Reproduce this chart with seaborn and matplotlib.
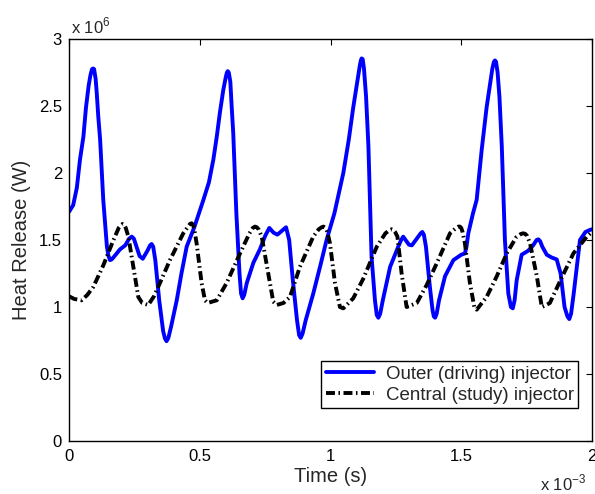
import numpy as np
import pandas as pd
import seaborn as sns
import matplotlib
matplotlib.use('Agg')
import matplotlib.pyplot as plt
from matplotlib.ticker import FuncFormatter

# valores (tempo em ms, calor em MW)
t_outer = [0.000, 0.016, 0.030, 0.042, 0.055, 0.065, 0.075, 0.082, 0.088, 0.092,
           0.096, 0.102, 0.106, 0.112, 0.119, 0.131, 0.145, 0.151, 0.157, 0.163,
           0.170, 0.195, 0.215, 0.230, 0.240, 0.248, 0.258, 0.270, 0.282, 0.300,
           0.310, 0.316, 0.322, 0.330, 0.345, 0.360, 0.367, 0.373, 0.380, 0.390,
           0.412, 0.430, 0.450, 0.480, 0.514, 0.535, 0.552, 0.565, 0.577, 0.590,
           0.600, 0.604, 0.607, 0.611, 0.617, 0.622, 0.628, 0.640, 0.652, 0.658,
           0.664, 0.670, 0.680, 0.705, 0.730, 0.750, 0.766, 0.782, 0.797, 0.815,
           0.830, 0.842, 0.856, 0.872, 0.880, 0.886, 0.893, 0.905, 0.934, 0.960,
           0.985, 1.015, 1.049, 1.070, 1.087, 1.100, 1.112, 1.116, 1.119, 1.123,
           1.128, 1.136, 1.145, 1.151, 1.157, 1.170, 1.177, 1.183, 1.190, 1.200,
           1.228, 1.259, 1.270, 1.278, 1.287, 1.300, 1.311, 1.330, 1.345, 1.351,
           1.357, 1.365, 1.380, 1.390, 1.395, 1.400, 1.406, 1.415, 1.438, 1.470,
           1.500, 1.514, 1.520, 1.527, 1.545, 1.559, 1.578, 1.597, 1.607, 1.619,
           1.625, 1.629, 1.633, 1.639, 1.646, 1.655, 1.662, 1.667, 1.680, 1.690,
           1.697, 1.704, 1.712, 1.731, 1.756, 1.775, 1.788, 1.795, 1.802, 1.810,
           1.827, 1.845, 1.865, 1.880, 1.895, 1.906, 1.913, 1.920, 1.930, 1.954,
           1.975, 1.992, 2.000]
q_outer = [1.71, 1.76, 1.89, 2.10, 2.27, 2.49, 2.65, 2.73, 2.775, 2.78,
           2.775, 2.70, 2.60, 2.42, 2.25, 1.80, 1.45, 1.38, 1.35, 1.355,
           1.37, 1.43, 1.46, 1.51, 1.525, 1.51, 1.45, 1.38, 1.36, 1.42,
           1.46, 1.47, 1.45, 1.35, 1.05, 0.82, 0.765, 0.745, 0.77, 0.85,
           1.05, 1.25, 1.45, 1.60, 1.80, 1.93, 2.10, 2.27, 2.45, 2.62,
           2.72, 2.75, 2.76, 2.75, 2.68, 2.50, 2.30, 1.70, 1.25, 1.10,
           1.065, 1.09, 1.18, 1.33, 1.43, 1.53, 1.59, 1.555, 1.54, 1.57,
           1.595, 1.50, 1.20, 0.90, 0.79, 0.77, 0.80, 0.90, 1.10, 1.30,
           1.50, 1.70, 2.00, 2.25, 2.49, 2.65, 2.80, 2.84, 2.855, 2.85,
           2.78, 2.57, 2.20, 1.80, 1.375, 1.05, 0.94, 0.92, 0.95, 1.05,
           1.30, 1.45, 1.50, 1.525, 1.50, 1.465, 1.46, 1.51, 1.55, 1.56,
           1.54, 1.45, 1.15, 0.98, 0.93, 0.92, 0.95, 1.05, 1.23, 1.35,
           1.39, 1.40, 1.45, 1.55, 1.70, 1.80, 2.17, 2.49, 2.62, 2.78,
           2.83, 2.84, 2.83, 2.75, 2.57, 2.20, 1.80, 1.50, 1.10, 1.00,
           0.99, 1.05, 1.20, 1.39, 1.42, 1.46, 1.50, 1.505, 1.49, 1.45,
           1.39, 1.37, 1.355, 1.25, 1.00, 0.93, 0.91, 0.95, 1.10, 1.50,
           1.56, 1.575, 1.58]

t_central = [0.000, 0.020, 0.048, 0.070, 0.093, 0.131, 0.170, 0.190, 0.198, 0.205,
             0.211, 0.217, 0.227, 0.246, 0.265, 0.280, 0.303, 0.325, 0.348, 0.386,
             0.437, 0.455, 0.463, 0.469, 0.475, 0.480, 0.488, 0.507, 0.520, 0.530,
             0.565, 0.603, 0.654, 0.690, 0.703, 0.711, 0.718, 0.725, 0.737, 0.762,
             0.781, 0.794, 0.820, 0.845, 0.883, 0.934, 0.955, 0.966, 0.973, 0.981,
             0.988, 0.998, 1.017, 1.036, 1.049, 1.087, 1.125, 1.177, 1.210, 1.227,
             1.234, 1.241, 1.247, 1.256, 1.272, 1.291, 1.305, 1.330, 1.368, 1.406,
             1.457, 1.480, 1.489, 1.495, 1.500, 1.505, 1.514, 1.533, 1.550, 1.559,
             1.597, 1.636, 1.674, 1.710, 1.728, 1.737, 1.745, 1.752, 1.763, 1.789,
             1.808, 1.820, 1.839, 1.877, 1.929, 1.980, 2.000]
q_central = [1.08, 1.06, 1.05, 1.09, 1.15, 1.31, 1.50, 1.59, 1.61, 1.62,
             1.615, 1.59, 1.525, 1.30, 1.075, 1.03, 1.015, 1.08, 1.18, 1.35,
             1.55, 1.60, 1.62, 1.625, 1.61, 1.57, 1.475, 1.18, 1.05, 1.03,
             1.05, 1.18, 1.40, 1.55, 1.59, 1.60, 1.595, 1.58, 1.525, 1.25,
             1.04, 1.015, 1.03, 1.075, 1.30, 1.525, 1.58, 1.595, 1.60, 1.59,
             1.56, 1.475, 1.18, 1.00, 0.99, 1.065, 1.21, 1.45, 1.55, 1.575,
             1.58, 1.575, 1.56, 1.525, 1.25, 1.00, 1.01, 1.03, 1.165, 1.325,
             1.55, 1.59, 1.60, 1.60, 1.59, 1.56, 1.475, 1.18, 1.00, 0.98,
             1.075, 1.23, 1.40, 1.52, 1.545, 1.55, 1.545, 1.53, 1.475, 1.23,
             1.00, 1.01, 1.03, 1.19, 1.40, 1.525, 1.56]

y_ticks = [0, 0.5, 1, 1.5, 2, 2.5, 3]
x_ticks = [0, 0.5, 1, 1.5, 2]

externo = pd.DataFrame({'tempo': np.array(t_outer) * 1e-3, 'calor': np.array(q_outer) * 1e6})
central = pd.DataFrame({'tempo': np.array(t_central) * 1e-3, 'calor': np.array(q_central) * 1e6})

sns.set_style('white')
plt.rcParams['font.family'] = ['Liberation Sans', 'DejaVu Sans']
plt.rcParams['mathtext.fontset'] = 'custom'
plt.rcParams['mathtext.rm'] = 'Liberation Sans'

fig = plt.figure(figsize=(5.95, 4.94), dpi=100)
ax = fig.add_axes([69 / 595, 53 / 494, 523 / 595, 402 / 494])

sns.lineplot(data=externo, x='tempo', y='calor', color='#0000ff', linewidth=2.8,
             label='Outer (driving) injector', ax=ax)
sns.lineplot(data=central, x='tempo', y='calor', color='black', linewidth=2.8,
             linestyle=(0, (2.3, 0.9, 0.4, 0.9)),
             label='Central (study) injector', ax=ax)

ax.set_xlim(0, 2e-3)
ax.set_ylim(0, 3e6)
ax.set_xticks(np.array(x_ticks) * 1e-3)
ax.set_yticks(np.array(y_ticks) * 1e6)
ax.xaxis.set_major_formatter(FuncFormatter(lambda v, p: '%g' % round(v * 1e3, 3)))
ax.yaxis.set_major_formatter(FuncFormatter(lambda v, p: '%g' % round(v / 1e6, 3)))
ax.tick_params(direction='in', length=4, width=0.8, top=True, right=True,
               labelsize=12, colors='black')
ax.tick_params(axis='x', pad=6)
ax.tick_params(axis='y', pad=5)
for s in ax.spines.values():
    s.set_color('black')
    s.set_linewidth(1.0)

ax.set_xlabel('Time (s)', fontsize=14.5, labelpad=2)
ax.set_ylabel('Heat Release (W)', fontsize=14.5, labelpad=6)

fig.text(71 / 595, 1 - 33 / 494, r'x 10$^{6}$', fontsize=12, va='baseline', ha='left')
fig.text(540 / 595, 1 - 490 / 494, r'x 10$^{-3}$', fontsize=12, va='baseline', ha='left')

leg = ax.legend(loc='lower right', bbox_to_anchor=(0.974, 0.081), fontsize=13.5,
                frameon=True, fancybox=False, edgecolor='black', framealpha=1,
                handlelength=2.6, handletextpad=0.6, borderpad=0.25,
                labelspacing=0.2, borderaxespad=0)
leg.get_frame().set_linewidth(1.0)

fig.savefig('out.png', dpi=100)
